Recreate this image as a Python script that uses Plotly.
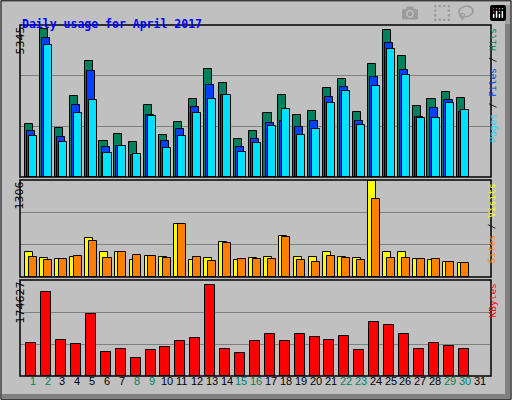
import plotly.graph_objects as go

days = list(range(1, 32))
hits = [1888, 5238, 1746, 2851, 4098, 1283, 1532, 1247, 2565, 1497, 1960, 2744, 3813, 3314, 1354,
        1639, 2280, 2886, 2209, 2352, 3136, 3456, 2316, 3991, 5202, 4276, 2530, 2744, 2993, 2779]
files = [1639, 4917, 1425, 2565, 3741, 1069, 1105, 784, 2209, 1283, 1710, 2494, 3242, 2886, 1069,
         1354, 1924, 1995, 1782, 1995, 2815, 3171, 1995, 3527, 4739, 3777, 2138, 2458, 2708, 2316]
pages = [1461, 4668, 1247, 2280, 2708, 855, 1105, 819, 2173, 1033, 1461, 2280, 2744, 2886, 891,
         1211, 1817, 2423, 1497, 1710, 2637, 3029, 1853, 3207, 4525, 3599, 2102, 2102, 2637, 2387]
visits = [330, 262, 249, 276, 520, 330, 343, 235, 289, 276, 709, 235, 262, 465, 235,
          262, 276, 547, 276, 276, 330, 276, 262, 1290, 330, 330, 249, 235, 208, 194]
sites = [276, 235, 249, 289, 479, 262, 343, 303, 289, 262, 709, 276, 221, 452, 249,
         249, 249, 533, 235, 208, 289, 262, 235, 1048, 262, 262, 249, 249, 208, 194]
kbytes = [61060, 154480, 66555, 59228, 114182, 44574, 50069, 33583, 48237, 53733, 64724, 70219,
          167304, 50069, 42742, 64724, 77546, 64724, 77546, 72051, 66555, 73883, 48237, 99528,
          94032, 77546, 50069, 61060, 55565, 50069]
weekend = [1, 2, 8, 9, 15, 16, 22, 23, 29, 30]
max_hits, max_visits, max_kb = 5345, 1306, 174627

C_HITS, C_FILES, C_PAGES = "#00805c", "#0040ff", "#00e0ff"
C_VISITS, C_SITES, C_KB = "#ffff00", "#ff8000", "#ff0000"
MONO = "DejaVu Sans Mono"

fig = go.Figure()
x = days[:30]


def bars(y, color, off, width, xa, ya):
    fig.add_trace(go.Bar(
        x=x, y=y, offset=off, width=width, marker_color=color,
        marker_line=dict(color="black", width=1), xaxis=xa, yaxis=ya,
        showlegend=False, hoverinfo="y",
    ))


bars(hits, C_HITS, -0.52, 0.54, "x", "y")
bars(files, C_FILES, -0.38, 0.54, "x", "y")
bars(pages, C_PAGES, -0.25, 0.54, "x", "y")
bars(visits, C_VISITS, -0.5, 0.54, "x2", "y2")
bars(sites, C_SITES, -0.25, 0.54, "x2", "y2")
bars(kbytes, C_KB, -0.43, 0.67, "x3", "y3")

xr = [0.15, 31.74]
xd = [20 / 512, 491 / 512]
ax_x = dict(range=xr, domain=xd, showticklabels=False, showgrid=False, zeroline=False,
            fixedrange=True)


def ax_y(dom, top):
    return dict(domain=dom, range=[0, top], tickvals=[top / 3, 2 * top / 3],
                showticklabels=False, gridcolor="#808080", gridwidth=1, zeroline=False,
                fixedrange=True)


d1 = [1 - 177 / 400, 1 - 25 / 400]
d2 = [1 - 277 / 400, 1 - 180 / 400]
d3 = [1 - 376 / 400, 1 - 280 / 400]

fig.update_layout(
    width=512, height=400, margin=dict(l=0, r=0, t=0, b=0),
    paper_bgcolor="#c0c0c0", plot_bgcolor="#c0c0c0",
    barmode="overlay", bargap=0,
    xaxis=dict(ax_x, anchor="y"), xaxis2=dict(ax_x, anchor="y2"), xaxis3=dict(ax_x, anchor="y3"),
    yaxis=dict(ax_y(d1, 5380), anchor="x"),
    yaxis2=dict(ax_y(d2, max_visits), anchor="x2"),
    yaxis3=dict(ax_y(d3, 176500), anchor="x3"),
)

shapes = [
    dict(type="rect", xref="paper", yref="paper", x0=0.002, x1=0.998, y0=0.002, y1=0.998,
         line=dict(color="black", width=1)),
    dict(type="rect", xref="paper", yref="paper", x0=505 / 512, x1=510 / 512, y0=2 / 400, y1=395 / 400,
         fillcolor="#808080", line_width=0),
    dict(type="rect", xref="paper", yref="paper", x0=2 / 512, x1=510 / 512, y0=2 / 400, y1=6 / 400,
         fillcolor="#808080", line_width=0),
]
for d in (d1, d2, d3):
    shapes.append(dict(type="rect", xref="paper", yref="paper", x0=xd[0], x1=xd[1],
                       y0=d[0], y1=d[1], line=dict(color="black", width=1.5)))
fig.update_layout(shapes=shapes)

ann = [dict(x=20 / 512, y=1 - 15 / 400, xref="paper", yref="paper", xanchor="left",
            text="<b>Daily usage for April 2017</b>", showarrow=False,
            font=dict(family=MONO, size=11.5, color="#0000ff"))]
for d, lab in ((d1, max_hits), (d2, max_visits), (d3, max_kb)):
    ann.append(dict(x=11 / 512, y=d[1], xref="paper", yref="paper", yanchor="top",
                    text=str(lab), textangle=-90, showarrow=False,
                    font=dict(family="DejaVu Sans", size=11, color="black")))
sl = "<span style='color:black'> / </span>"
right = [
    (d1, f"<span style='color:{C_PAGES}'>Pages</span>{sl}<span style='color:{C_FILES}'>Files</span>{sl}<span style='color:{C_HITS}'>Hits</span>"),
    (d2, f"<span style='color:{C_SITES}'>Sites</span>{sl}<span style='color:{C_VISITS}'>Visits</span>"),
    (d3, f"<span style='color:{C_KB}'>KBytes</span>"),
]
for d, t in right:
    ann.append(dict(x=499 / 512, y=d[1] - 0.005, xref="paper", yref="paper", yanchor="top",
                    text=t, textangle=-90, showarrow=False, font=dict(family=MONO, size=9.5)))
for day in days:
    ann.append(dict(x=day, y=1 - 389 / 400, xref="x3", yref="paper", text=str(day),
                    showarrow=False,
                    font=dict(family="Liberation Sans", size=11,
                              color=C_HITS if day in weekend else "black")))
fig.update_layout(annotations=ann)

fig.write_html("out.html", post_script="document.body.style.margin='0';")
